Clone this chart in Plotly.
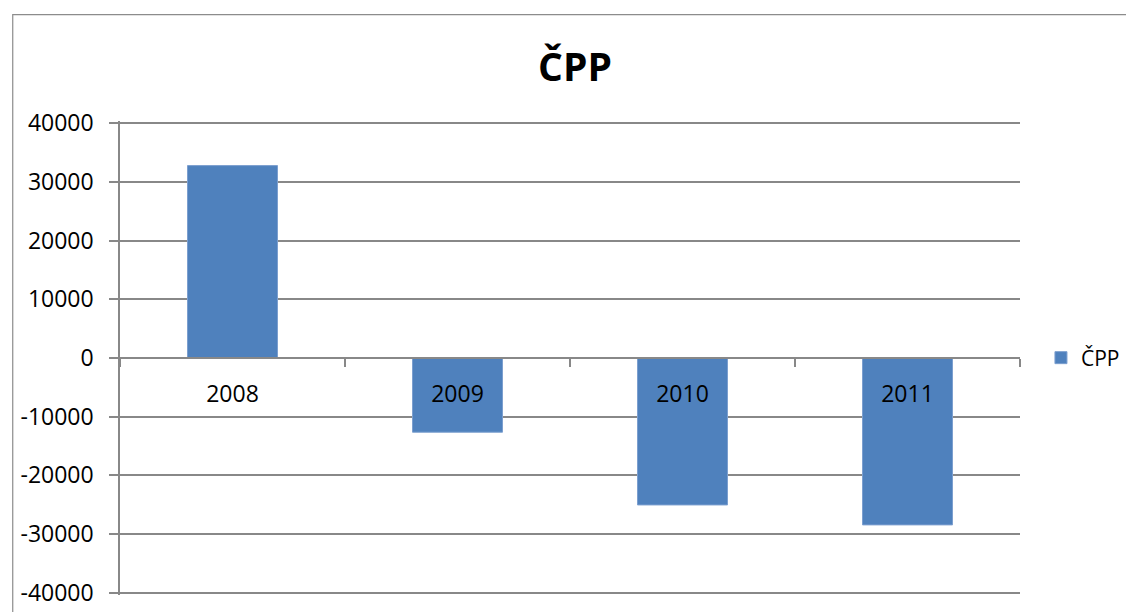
import plotly.graph_objects as go

years = ["2008", "2009", "2010", "2011"]
cpp_values = [32800, -12650, -25050, -28450]
y_tick_values = [-40000, -30000, -20000, -10000, 0, 10000, 20000, 30000, 40000]
y_tick_labels = [str(v) for v in y_tick_values]
series_name = "ČPP"
chart_title = "ČPP"

FONT = "Open Sans"
GRID = "#888888"

fig = go.Figure()
fig.add_trace(go.Bar(
    x=years, y=cpp_values, name=series_name,
    marker=dict(color="#4F81BD", line=dict(color="#7C9FCF", width=1)),
    showlegend=True,
))

# page renders the figure offset by the body margin
OFF = 8
W, H = 1134, 612
PL, PR = 118, 1020
YPAD = 400  # small headroom so edge gridlines are drawn
L = PL - OFF
pw = PR - PL
ph = 474
T = 113
R = W - L - pw
B = H - T - ph

def px_to_paper(xp, yp):
    xf = xp - OFF
    yf = yp - OFF
    return (xf - L) / pw, (H - B - yf) / ph

bx0, by0 = px_to_paper(10.5, 14.7)
bx1, by1 = px_to_paper(1160, 650)
lx, _ = px_to_paper(1041, 0)

fig.update_layout(
    width=W, height=H,
    margin=dict(l=L, r=R, t=T, b=B, pad=0),
    paper_bgcolor="white", plot_bgcolor="white",
    font=dict(family=FONT, color="black", size=20),
    title=dict(text="<b>" + chart_title + "</b>", x=(575 - OFF) / W, xref="container",
               xanchor="center", y=1 - (67 - OFF) / H, yref="container", yanchor="middle",
               font=dict(family=FONT, size=39, color="black")),
    bargap=0.6,
    showlegend=True,
    legend=dict(x=lx, xanchor="left", y=0.5, yanchor="middle",
                font=dict(family=FONT, size=21, color="black"),
                bgcolor="rgba(0,0,0,0)", borderwidth=0),
    xaxis=dict(
        type="category", anchor="free", position=0.5,
        showline=True, linecolor=GRID, linewidth=1.5,
        ticks="outside", tickson="boundaries", ticklen=8, tickcolor=GRID, tickwidth=1.5,
        showgrid=False, zeroline=False,
        tickfont=dict(family=FONT, size=23, color="black"),
        ticklabelstandoff=16,
    ),
    yaxis=dict(
        range=[y_tick_values[0] - YPAD, y_tick_values[-1] + YPAD],
        tickvals=y_tick_values, ticktext=y_tick_labels,
        showline=True, linecolor=GRID, linewidth=1.5,
        ticks="outside", ticklen=9, tickcolor=GRID, tickwidth=1.5,
        showgrid=True, gridcolor=GRID, gridwidth=1.5,
        zeroline=True, zerolinecolor=GRID, zerolinewidth=1.5,
        tickfont=dict(family=FONT, size=23, color="black"),
        ticklabelstandoff=11,
    ),
    shapes=[dict(type="rect", xref="paper", yref="paper",
                 x0=bx0, y0=by1, x1=bx1, y1=by0,
                 line=dict(color="#8c8c8c", width=1.2), layer="below")],
)

fig.write_html("out.html")
